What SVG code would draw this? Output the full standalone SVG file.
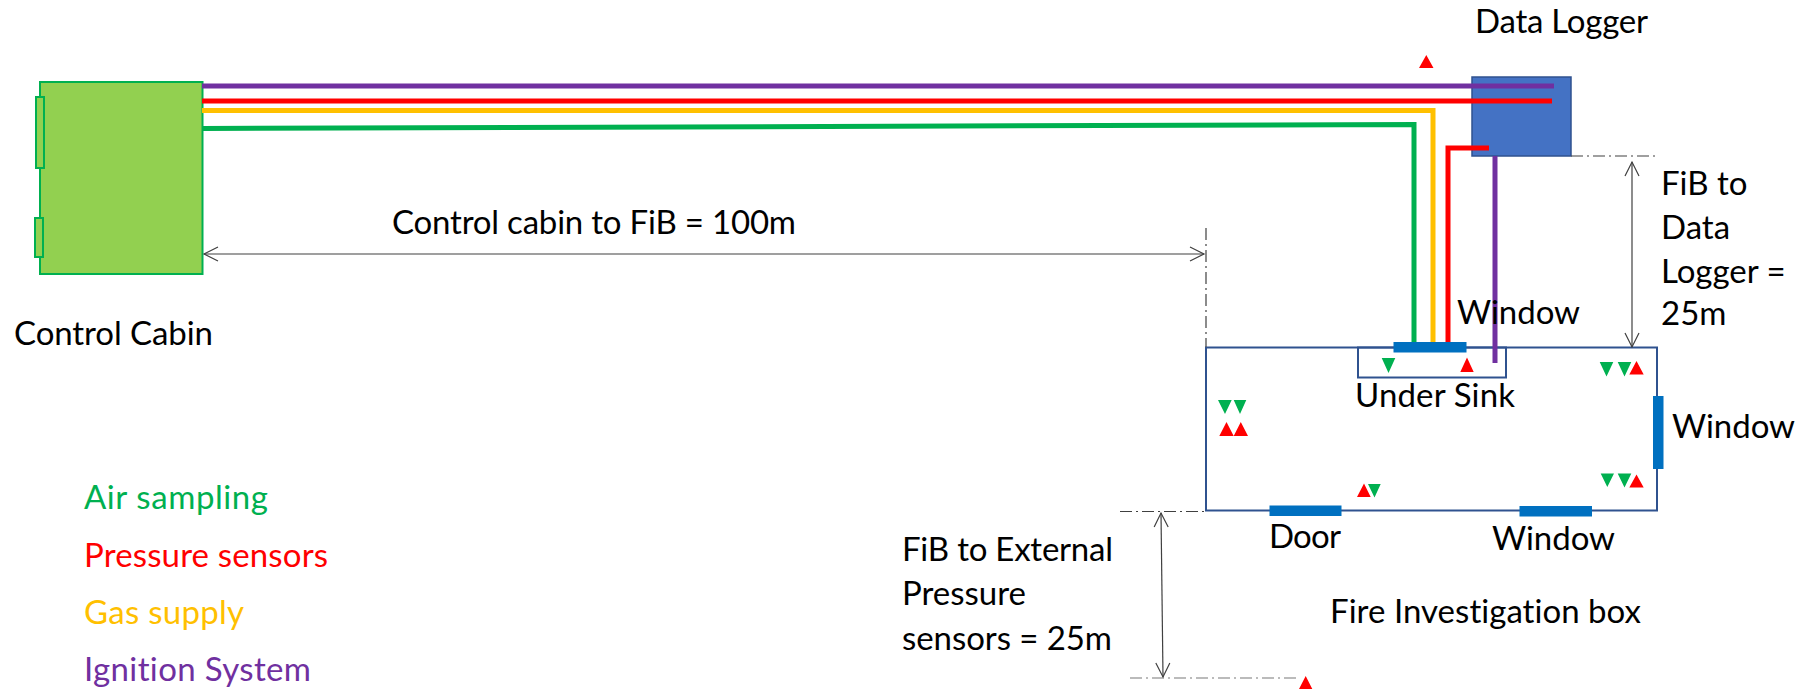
<svg xmlns="http://www.w3.org/2000/svg" width="1814" height="689" viewBox="0 0 1814 689">
<style>
text{font-family:"Lato","Open Sans","Liberation Sans",sans-serif;font-size:33px;fill:#000;font-variant-ligatures:none}
.g{fill:#00B050}.r{fill:#FF0000}
.w{fill:#0070C0}
.dim{stroke:#404040;stroke-width:1.2;fill:none}
.dd{stroke:#404040;stroke-width:1.2;fill:none;stroke-dasharray:12 4 2 4}
.l{fill:none;stroke-width:5}
</style>
<defs>
<marker id="op" markerUnits="userSpaceOnUse" markerWidth="18" markerHeight="20" refX="16" refY="8" orient="auto-start-reverse" viewBox="0 0 18 16"><path d="M2 1L16 8L2 15" fill="none" stroke="#404040" stroke-width="1.2"/></marker>
</defs>
<rect width="1814" height="689" fill="#fff"/>
<g id="control-cabin">
<rect x="40" y="82" width="162.500" height="192" fill="#92D050" stroke="#00B050" stroke-width="2"/>
<rect x="36" y="97" width="8" height="71" fill="#92D050" stroke="#00B050" stroke-width="2"/>
<rect x="35" y="218" width="8" height="39" fill="#92D050" stroke="#00B050" stroke-width="2"/>
<text x="14" y="345" textLength="199">Control Cabin</text>
</g>
<g id="data-logger">
<rect x="1472" y="77" width="99" height="79" fill="#4472C4" stroke="#2F528F" stroke-width="1.500"/>
<text x="1475" y="33" textLength="173">Data Logger</text>
</g>
<g id="fire-investigation-box">
<rect x="1206" y="347.500" width="451" height="163" fill="none" stroke="#2F528F" stroke-width="2"/>
<rect x="1358" y="347.500" width="148" height="30" fill="none" stroke="#2F528F" stroke-width="2"/>
<text x="1330" y="623" textLength="311">Fire Investigation box</text>
<text x="1355" y="407" textLength="160">Under Sink</text>
</g>
<g id="connectors">
<path class="l" stroke="#7030A0" d="M202 86H1554"/>
<path class="l" stroke="#FF0000" d="M202 101H1552"/>
<path class="l" stroke="#FFC000" d="M202 110.500H1433V342"/>
<path class="l" stroke="#00B050" d="M202 128.500L1414 124.500V342"/>
<path class="l" stroke="#FF0000" d="M1489 148H1448V342"/>
<path class="l" stroke="#7030A0" d="M1495 156V363"/>
<path class="dim" marker-start="url(#op)" marker-end="url(#op)" d="M204 254H1204"/>
<path class="dim" marker-start="url(#op)" marker-end="url(#op)" d="M1632 162V347"/>
<path class="dim" marker-start="url(#op)" marker-end="url(#op)" d="M1161 513L1163 677"/>
<path class="dd" d="M1206 228V347"/>
<path class="dd" d="M1571 156H1656"/>
<path class="dd" d="M1120 511.500H1205"/>
<path class="dd" stroke-opacity=".7" d="M1130 678H1300"/>
</g>
<g id="windows">
<rect class="w" x="1393.500" y="342" width="73" height="10.500"/>
<rect class="w" x="1269.500" y="505.500" width="72" height="10.500"/>
<rect class="w" x="1519.500" y="506" width="72.500" height="10.500"/>
<rect class="w" x="1653" y="396" width="10.500" height="73"/>
<text x="1457" y="324" textLength="123">Window</text>
<text x="1672" y="438" textLength="123">Window</text>
<text x="1492" y="550" textLength="123">Window</text>
<text x="1269" y="548" textLength="72">Door</text>
</g>
<g id="sensors">
<path class="r" d="M1419 68L1426.300 55L1433.500 68ZM1460.300 372L1467 357.500L1473.700 372ZM1219.300 436L1226.500 422L1233.700 436ZM1233.700 436L1240.800 422L1248 436ZM1357 497L1364 483.500L1370.700 497ZM1629.300 374.500L1636.500 361L1643.700 374.500ZM1629.300 487.500L1636.500 474.500L1643.700 487.500ZM1299 689L1305.700 676L1312.300 689Z"/>
<path class="g" d="M1381.700 358H1395.300L1388.500 373ZM1218 400H1231.700L1225 414ZM1233.700 400H1246.300L1240 414ZM1368 484H1380.700L1374.500 497.500ZM1599.700 362H1613.300L1606.500 376.500ZM1617.700 362H1631.300L1624.500 376.500ZM1600.700 473.500H1614L1607.300 487ZM1617.700 473.500H1631.300L1624.500 487.500Z"/>
</g>
<g id="labels">
<text x="392" y="234" textLength="404">Control cabin to FiB = 100m</text>
<text x="1661" y="195">FiB to</text>
<text x="1661" y="239">Data</text>
<text x="1661" y="283">Logger =</text>
<text x="1661" y="325">25m</text>
<text x="902" y="561" textLength="211">FiB to External</text>
<text x="902" y="605">Pressure</text>
<text x="902" y="650" textLength="210">sensors = 25m</text>
<text x="84" y="509" style="fill:#00B050" textLength="184">Air sampling</text>
<text x="84" y="567" style="fill:#FF0000" textLength="244">Pressure sensors</text>
<text x="84" y="624" style="fill:#FFC000" textLength="160">Gas supply</text>
<text x="84" y="681" style="fill:#7030A0" textLength="227">Ignition System</text>
</g>
</svg>
